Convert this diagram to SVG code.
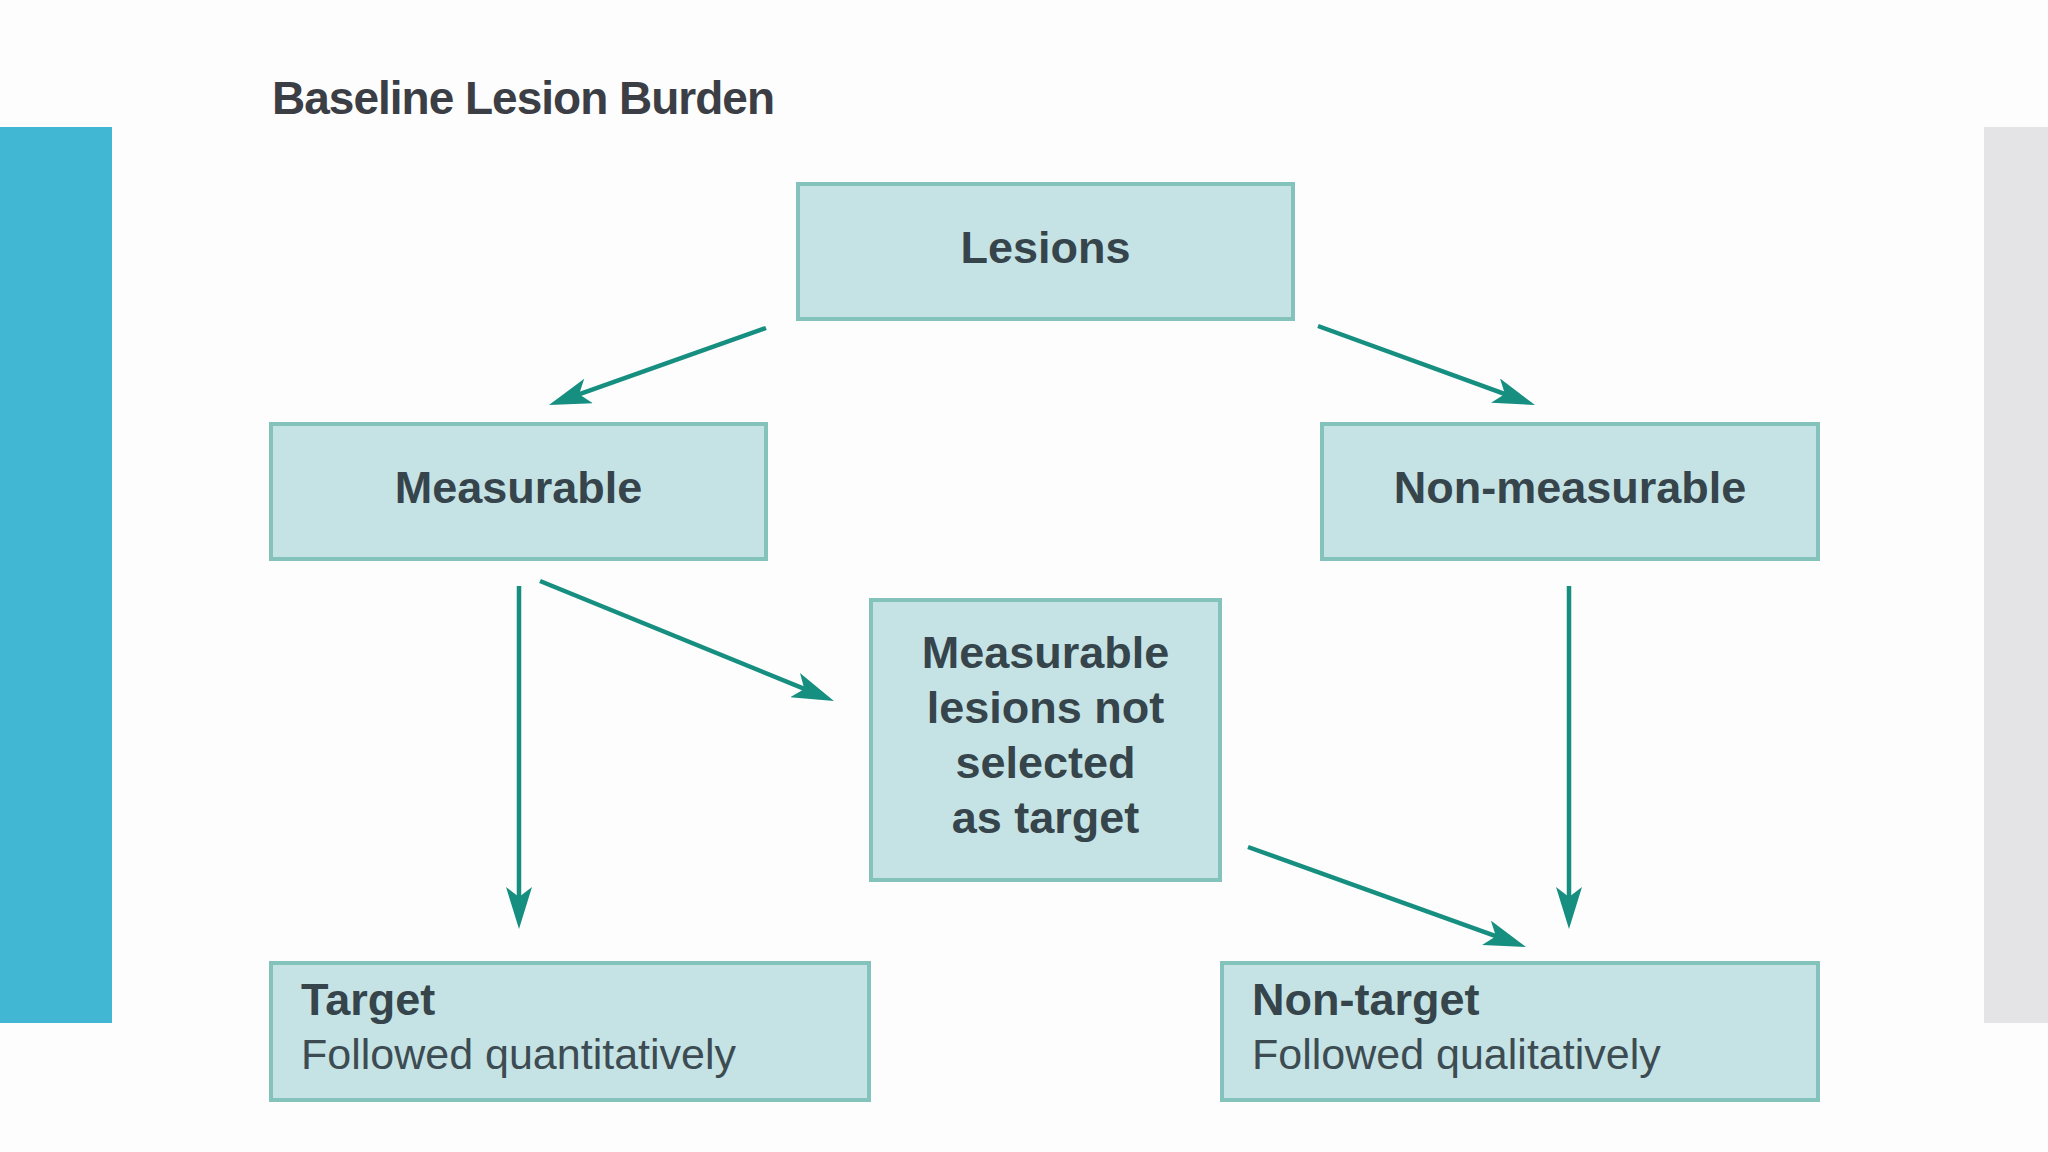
<svg xmlns="http://www.w3.org/2000/svg" width="2048" height="1152" viewBox="0 0 2048 1152">
<defs>
<style>
.box{fill:#c5e3e4;stroke:#84c3bb;stroke-width:4}
.lbl{font-family:"Liberation Sans",Arial,sans-serif;font-weight:bold;font-size:45px;fill:#36444b}
.sub{font-family:"Liberation Sans",Arial,sans-serif;font-size:43px;fill:#3d4b52}
.title{font-family:"Liberation Sans",Arial,sans-serif;font-weight:bold;font-size:46px;fill:#3b3e44;letter-spacing:-1px}
.arr{stroke:#168f80;stroke-width:4.5;fill:none;marker-end:url(#ah)}
</style>
<marker id="ah" viewBox="0 0 42 26" markerWidth="42" markerHeight="26" markerUnits="userSpaceOnUse" refX="32" refY="13" orient="auto">
<path d="M0,0 L42,13 L0,26 L10,13 Z" fill="#168f80"/>
</marker>
</defs>
<rect x="0" y="0" width="2048" height="1152" fill="#fdfdfd"/>
<rect x="0" y="127" width="112" height="896" fill="#41b7d3"/>
<rect x="1984" y="127" width="64" height="896" fill="#e4e4e6"/>
<text class="title" x="272" y="114">Baseline Lesion Burden</text>
<g id="connectors">
<line class="arr" x1="766" y1="328" x2="558.4" y2="401.7"/>
<line class="arr" x1="1318" y1="326" x2="1525.6" y2="401.6"/>
<line class="arr" x1="519" y1="586" x2="519" y2="919"/>
<line class="arr" x1="540" y1="581" x2="824.7" y2="697.2"/>
<line class="arr" x1="1569" y1="586" x2="1569" y2="919"/>
<line class="arr" x1="1248" y1="847" x2="1516.6" y2="943.6"/>
</g>
<g id="lesions">
<rect class="box" x="798" y="184" width="495" height="135"/>
<text class="lbl" x="1045.5" y="263" text-anchor="middle">Lesions</text>
</g>
<g id="measurable">
<rect class="box" x="271" y="424" width="495" height="135"/>
<text class="lbl" x="518.5" y="503" text-anchor="middle">Measurable</text>
</g>
<g id="non-measurable">
<rect class="box" x="1322" y="424" width="496" height="135"/>
<text class="lbl" x="1570" y="503" text-anchor="middle">Non-measurable</text>
</g>
<g id="not-selected">
<rect class="box" x="871" y="600" width="349" height="280"/>
<text class="lbl" text-anchor="middle"><tspan x="1045.5" y="668">Measurable</tspan><tspan x="1045.5" y="723">lesions not</tspan><tspan x="1045.5" y="778">selected</tspan><tspan x="1045.5" y="833">as target</tspan></text>
</g>
<g id="target">
<rect class="box" x="271" y="963" width="598" height="137"/>
<text class="lbl" x="301" y="1015">Target</text>
<text class="sub" x="301" y="1069">Followed quantitatively</text>
</g>
<g id="non-target">
<rect class="box" x="1222" y="963" width="596" height="137"/>
<text class="lbl" x="1252" y="1015">Non-target</text>
<text class="sub" x="1252" y="1069">Followed qualitatively</text>
</g>
</svg>
